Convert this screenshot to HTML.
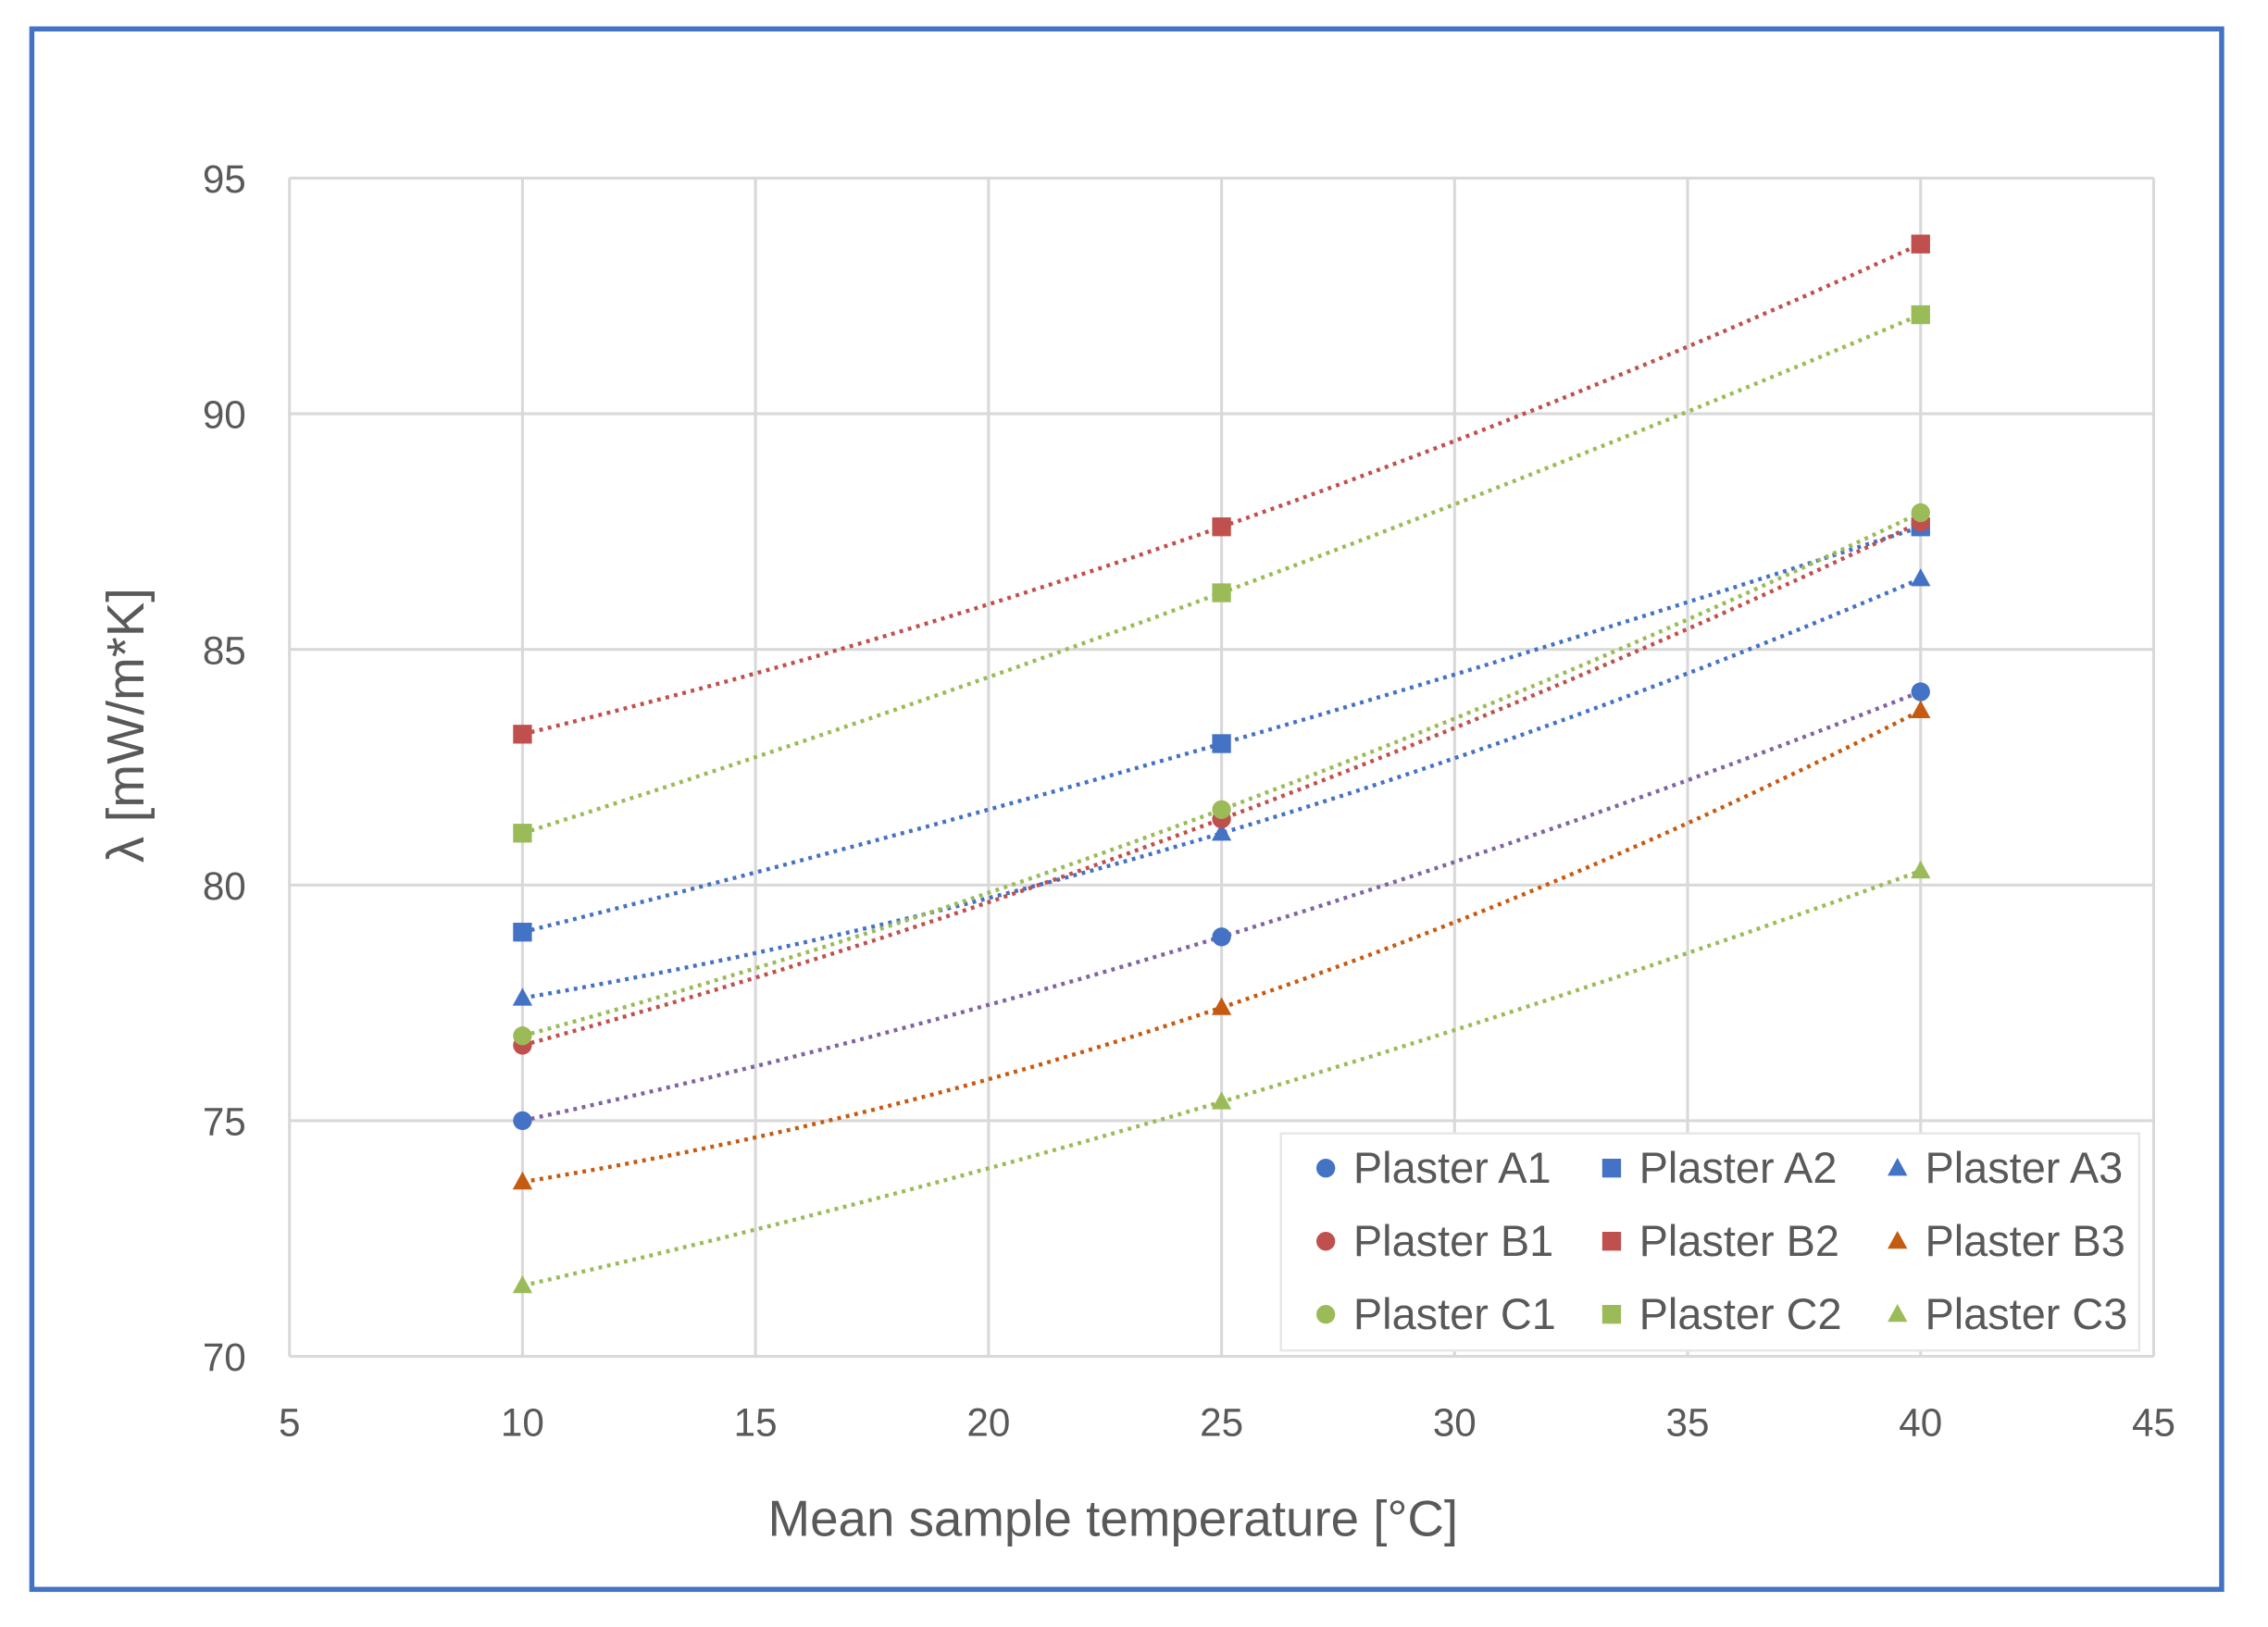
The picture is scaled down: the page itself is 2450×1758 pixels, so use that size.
<!DOCTYPE html>
<html><head><meta charset="utf-8"><style>
html,body{margin:0;padding:0;background:#fff;}
svg{display:block;font-family:"Liberation Sans","DejaVu Sans",sans-serif;}
</style></head><body>
<svg id="chart" width="2450" height="1758" viewBox="0 0 1567 1124" preserveAspectRatio="none" xmlns="http://www.w3.org/2000/svg">
<rect x="0" y="0" width="1567" height="1124" fill="#fff"/>
<rect x="22" y="20" width="1513" height="1078" fill="none" stroke="#4472C4" stroke-width="3.5"/>
<g id="grid"></g>
<g id="lines"></g>
<g id="marks"></g>
<g id="ticks"></g>
<text x="769" y="1061" font-size="35" fill="#595959" text-anchor="middle">Mean sample temperature [°C]</text>
<text transform="translate(99,501) rotate(-90)" font-size="36" fill="#595959" text-anchor="middle">λ [mW/m*K]</text>
<g id="legend"></g>
</svg>
<script>
const xTemps = [10, 25, 40];
const seriesNames = ["Plaster A1","Plaster A2","Plaster A3","Plaster B1","Plaster B2","Plaster B3","Plaster C1","Plaster C2","Plaster C3"];
const valsA1 = [75.0, 78.9, 84.1];
const valsA2 = [79.0, 83.0, 87.6];
const valsA3 = [77.6, 81.1, 86.5];
const valsB1 = [76.6, 81.4, 87.7];
const valsB2 = [83.2, 87.6, 93.6];
const valsB3 = [73.7, 77.4, 83.7];
const valsC1 = [76.8, 81.6, 87.9];
const valsC2 = [81.1, 86.2, 92.1];
const valsC3 = [71.5, 75.4, 80.3];
const xTicks = [5,10,15,20,25,30,35,40,45];
const yTicks = [70,75,80,85,90,95];

const allVals = [valsA1,valsA2,valsA3,valsB1,valsB2,valsB3,valsC1,valsC2,valsC3];
const markColors = ["#4472C4","#4472C4","#4472C4","#C0504D","#C0504D","#C55A11","#9BBB59","#9BBB59","#9BBB59"];
const lineColors = ["#8064A2","#4472C4","#4472C4","#C0504D","#C0504D","#C55A11","#9BBB59","#9BBB59","#9BBB59"];
const shapes = ["circle","square","triangle","circle","square","triangle","circle","square","triangle"];
const NS="http://www.w3.org/2000/svg";
const X0=200,X1=1488,Y0=937,Y1=123;
const sx=v=>X0+(v-5)/40*(X1-X0);
const sy=v=>Y0-(v-70)/25*(Y0-Y1);
function mk(tag,attrs,parent){const e=document.createElementNS(NS,tag);for(const k in attrs)e.setAttribute(k,attrs[k]);parent.appendChild(e);return e;}
const grid=document.getElementById('grid'),ticks=document.getElementById('ticks');
xTicks.forEach(t=>{
  const l=mk('line',{x1:sx(t),x2:sx(t),y1:Y1,y2:Y0,stroke:'#d9d9d9','stroke-width':2},grid);
  
  
  const tx=mk('text',{x:sx(t),y:992,'font-size':27,fill:'#595959','text-anchor':'middle'},ticks);
  tx.textContent=t;
  
  
});
yTicks.forEach(t=>{
  const l=mk('line',{x1:X0,x2:X1,y1:sy(t),y2:sy(t),stroke:'#d9d9d9','stroke-width':2},grid);
  
  
  const tx=mk('text',{x:170,y:sy(t)+10,'font-size':27,fill:'#595959','text-anchor':'end'},ticks);
  tx.textContent=t;
  
  
});
function marker(shape,cx,cy,color,parent,r){
  let e;
  if(shape==='circle')e=mk('circle',{cx:cx,cy:cy,r:r,fill:color},parent);
  else if(shape==='square')e=mk('rect',{x:cx-r,y:cy-r,width:2*r,height:2*r,fill:color},parent);
  else e=mk('polygon',{points:`${cx},${cy-r*1.1} ${cx+r*1.05},${cy+r*0.8} ${cx-r*1.05},${cy+r*0.8}`,fill:color},parent);
  return e;
}
function quad(xs,ys,x){let s=0;for(let i=0;i<3;i++){let p=ys[i];for(let j=0;j<3;j++)if(j!==i)p*=(x-xs[j])/(xs[i]-xs[j]);s+=p;}return s;}
const lines=document.getElementById('lines'),marks=document.getElementById('marks');
allVals.forEach((vals,i)=>{
  let d='';
  for(let k=0;k<=60;k++){const x=xTemps[0]+(xTemps[2]-xTemps[0])*k/60;d+=(k?'L':'M')+sx(x).toFixed(1)+','+sy(quad(xTemps,vals,x)).toFixed(1);}
  const p=mk('path',{d:d,fill:'none',stroke:lineColors[i],'stroke-width':2.8,'stroke-dasharray':'2.5 3.5'},lines);
  
  
  vals.forEach((v,k)=>{
    const m=marker(shapes[i],sx(xTemps[k]),sy(v),markColors[i],marks,6.5);
    
    
  });
});
const lg=document.getElementById('legend');
const bg=mk('rect',{x:885,y:783,width:593,height:150,fill:'#fff',stroke:'#e6e6e6','stroke-width':1.5},lg);


seriesNames.forEach((n,i)=>{
  const col=i%3,row=Math.floor(i/3);
  const mx=916+col*197.5,my=807+row*50.5;
  const m=marker(shapes[i],mx,my,markColors[i],lg,6.5);
  
  
  const t=mk('text',{x:mx+19,y:my+10,'font-size':30,fill:'#595959'},lg);
  t.textContent=n;
  
  
});
</script>
</body></html>
